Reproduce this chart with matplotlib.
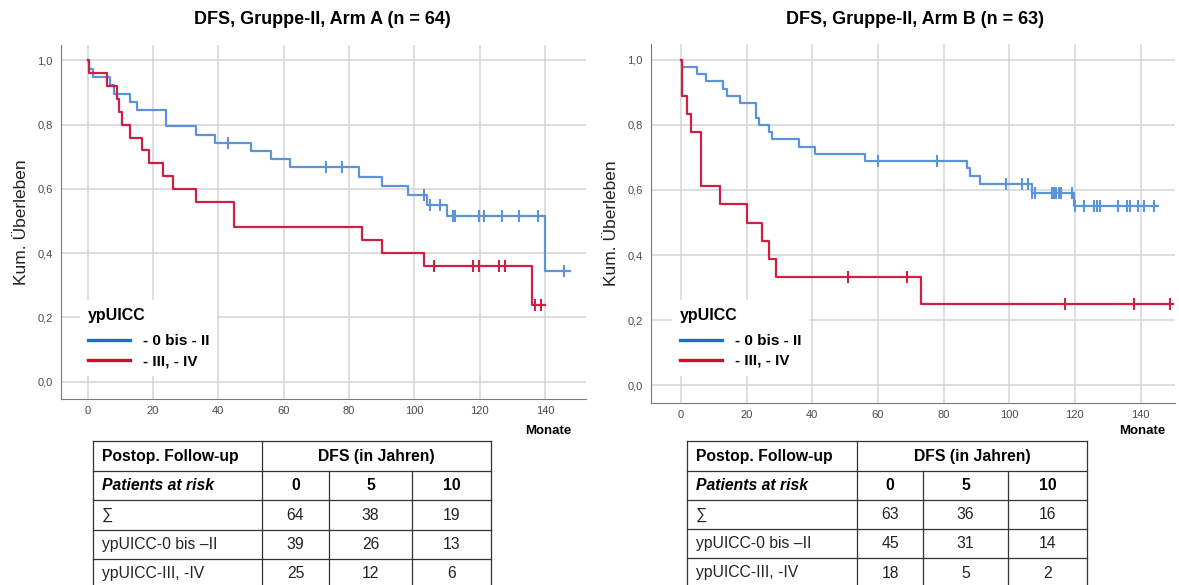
import numpy as np
import matplotlib
matplotlib.use("Agg")
import matplotlib.pyplot as plt
from matplotlib.lines import Line2D

plt.rcParams['font.family'] = ['Liberation Sans', 'DejaVu Sans']

# --- Arm A, ypUICC 0 bis II ---
a_lo_t = [0.3, 1.7, 6.8, 7.9, 13, 15, 24, 33, 39, 50, 56, 62, 83, 90, 98, 104, 110, 140]
a_lo_s = [0.974, 0.949, 0.923, 0.897, 0.872, 0.846, 0.795, 0.769, 0.744, 0.718,
          0.692, 0.667, 0.638, 0.610, 0.581, 0.549, 0.515, 0.343]
a_lo_cens = [43, 73, 78, 103, 104.7, 108, 111.8, 112.5, 119.8, 121.5, 127, 132, 138, 146]
a_lo_end = 147.7

# --- Arm A, ypUICC III, IV ---
a_hi_t = [0.3, 5.8, 8.9, 9.7, 10.6, 13, 16.7, 18.9, 23, 26, 33, 44.9, 84, 90, 103, 136]
a_hi_s = [0.96, 0.92, 0.88, 0.84, 0.80, 0.76, 0.72, 0.68, 0.64, 0.60, 0.56, 0.48,
          0.44, 0.40, 0.36, 0.24]
a_hi_cens = [106, 118, 119.8, 126, 127.8, 137, 138.8]
a_hi_end = 140

# --- Arm B, ypUICC 0 bis II ---
b_lo_t = [0.3, 5, 7.8, 12.9, 13.9, 18, 23, 23.8, 26.8, 27.9, 35.9, 41, 56, 87, 88, 91, 107, 119.8]
b_lo_s = [0.978, 0.956, 0.933, 0.911, 0.889, 0.867, 0.822, 0.800, 0.778, 0.756,
          0.733, 0.711, 0.689, 0.666, 0.643, 0.618, 0.592, 0.550]
b_lo_cens = [60, 78, 99, 103.8, 105.6, 107, 108, 112.9, 113.6, 114.4, 115.1, 115.9, 119,
             120, 122.8, 125.9, 126.8, 127.8, 133, 136, 136.8, 139.1, 141.1, 144.1]
b_lo_end = 145.3

# --- Arm B, ypUICC III, IV ---
b_hi_t = [0.3, 2, 3, 6, 11.9, 20, 24.8, 26.9, 29.1, 73]
b_hi_s = [0.889, 0.833, 0.778, 0.611, 0.556, 0.5, 0.444, 0.389, 0.333, 0.25]
b_hi_cens = [51, 69, 117, 138, 149]
b_hi_end = 150

titles = ["DFS, Gruppe-II, Arm A (n = 64)", "DFS, Gruppe-II, Arm B (n = 63)"]
group_labels = ["- 0 bis - II", "- III, - IV"]

# patients at risk tables
tab_head = ["Postop. Follow-up", "DFS (in Jahren)"]
tab_sub = ["Patients at risk", "0", "5", "10"]
tab_rows = ["\u2211", "ypUICC-0 bis \u2013II", "ypUICC-III, -IV"]
tab_a_vals = [[64, 38, 19], [39, 26, 13], [25, 12, 6]]
tab_b_vals = [[63, 36, 16], [45, 31, 14], [18, 5, 2]]

c_blue, c_red = "#5b94d8", "#d11f43"
leg_blue, leg_red = "#1a6fc4", "#c8102e"

W, H = 1179, 585
fig = plt.figure(figsize=(W / 100, H / 100), dpi=100)


def px_axes(x0, y0, x1, y1):
    return fig.add_axes([x0 / W, 1 - y1 / H, (x1 - x0) / W, (y1 - y0) / H])


def km(ax, t, s, cens, end, color):
    tt = np.array([0] + t + [end])
    ss = np.array([1.0] + s + [s[-1]])
    ax.step(tt, ss, where='post', color=color, lw=1.6, zorder=3)
    idx = np.searchsorted(tt, cens, side='right') - 1
    ax.plot(cens, ss[idx], ls='none', marker='|', ms=9, mew=1.5, color=color, zorder=3)


def style(ax, xlim, leg_xy, mon_xy):
    ax.set_xlim(*xlim)
    ax.set_ylim(-0.054, 1.048)
    ax.set_xticks(np.arange(0, 141, 20))
    ax.set_yticks(np.arange(0, 1.01, 0.2))
    ax.set_yticklabels([f"{v:.1f}".replace('.', ',') for v in np.arange(0, 1.01, 0.2)])
    ax.grid(True, color="#d4d4d4", lw=1.1)
    ax.set_axisbelow(True)
    for sp in ['top', 'right']:
        ax.spines[sp].set_visible(False)
    for sp in ['left', 'bottom']:
        ax.spines[sp].set_color("#7a7a7a")
    ax.tick_params(length=0, labelsize=8, labelcolor="#4a4a4a")
    ax.tick_params(axis='y', pad=6)
    ax.tick_params(axis='x', pad=5)
    ax.set_ylabel("Kum. \u00dcberleben", fontsize=12.5, color="#222222", labelpad=6)
    ax.text(*mon_xy, "Monate", transform=ax.transAxes, ha='center', va='center',
            fontsize=9.5, fontweight='bold')
    handles = [Line2D([], [], color=leg_blue, lw=2.4), Line2D([], [], color=leg_red, lw=2.4)]
    leg = ax.legend(handles, group_labels, title="ypUICC", loc='lower left',
                    bbox_to_anchor=leg_xy, frameon=True, framealpha=1, edgecolor='none',
                    facecolor='white', fancybox=False, handlelength=2.75,
                    handletextpad=0.85, prop={'weight': 'bold', 'size': 11},
                    alignment='left', borderpad=0.5, labelspacing=0.4)
    leg.get_title().set_fontweight('bold')
    leg.get_title().set_fontsize(11.5)
    leg._legend_box.sep = 8


ax1 = px_axes(61, 45, 586, 399)
km(ax1, a_lo_t, a_lo_s, a_lo_cens, a_lo_end, c_blue)
km(ax1, a_hi_t, a_hi_s, a_hi_cens, a_hi_end, c_red)
style(ax1, (-8.2, 152.6), (0.022, 0.044), (0.928, -0.09))

ax2 = px_axes(651, 44, 1175, 403)
km(ax2, b_lo_t, b_lo_s, b_lo_cens, b_lo_end, c_blue)
km(ax2, b_hi_t, b_hi_s, b_hi_cens, b_hi_end, c_red)
style(ax2, (-9.1, 150.5), (0.026, 0.055), (0.937, -0.078))

fig.text(322 / W, 1 - 19 / H, titles[0], ha='center', va='center', fontsize=13, fontweight='bold')
fig.text(915 / W, 1 - 19 / H, titles[1], ha='center', va='center', fontsize=13, fontweight='bold')

# tables drawn in pixel coordinates
tx = fig.add_axes([0, 0, 1, 1])
tx.set_xlim(0, W)
tx.set_ylim(H, 0)
tx.axis('off')
fs = 11.3


def table(cols, rows, vals):
    lc = "#333333"
    for i, y in enumerate(rows):
        tx.plot([cols[0], cols[-1]], [y, y], color=lc, lw=0.9)
    for j, x in enumerate(cols):
        y0 = rows[0] if j in (0, 1, len(cols) - 1) else rows[1]
        tx.plot([x, x], [y0, rows[-1]], color=lc, lw=0.9)
    mid = [(rows[k] + rows[k + 1]) / 2 for k in range(len(rows) - 1)]
    xl = cols[0] + 9
    tx.text(xl, mid[0], tab_head[0], ha='left', va='center', fontsize=fs, fontweight='bold')
    tx.text((cols[1] + cols[-1]) / 2, mid[0], tab_head[1], ha='center', va='center',
            fontsize=fs, fontweight='bold')
    tx.text(xl, mid[1], tab_sub[0], ha='left', va='center', fontsize=fs,
            fontweight='bold', fontstyle='italic')
    for j in range(3):
        tx.text((cols[j + 1] + cols[j + 2]) / 2, mid[1], tab_sub[j + 1], ha='center',
                va='center', fontsize=fs, fontweight='bold')
    for i, name in enumerate(tab_rows):
        tx.text(xl, mid[i + 2], name, ha='left', va='center', fontsize=fs, color="#222222")
        for j in range(3):
            tx.text((cols[j + 1] + cols[j + 2]) / 2, mid[i + 2], str(vals[i][j]),
                    ha='center', va='center', fontsize=fs, color="#222222")


table([93, 262, 329, 412, 491], [441, 471, 500, 530, 559, 588], tab_a_vals)
table([687, 857, 923, 1008, 1087], [441, 471, 500, 529, 558, 588], tab_b_vals)

fig.savefig("out.png", dpi=100)
